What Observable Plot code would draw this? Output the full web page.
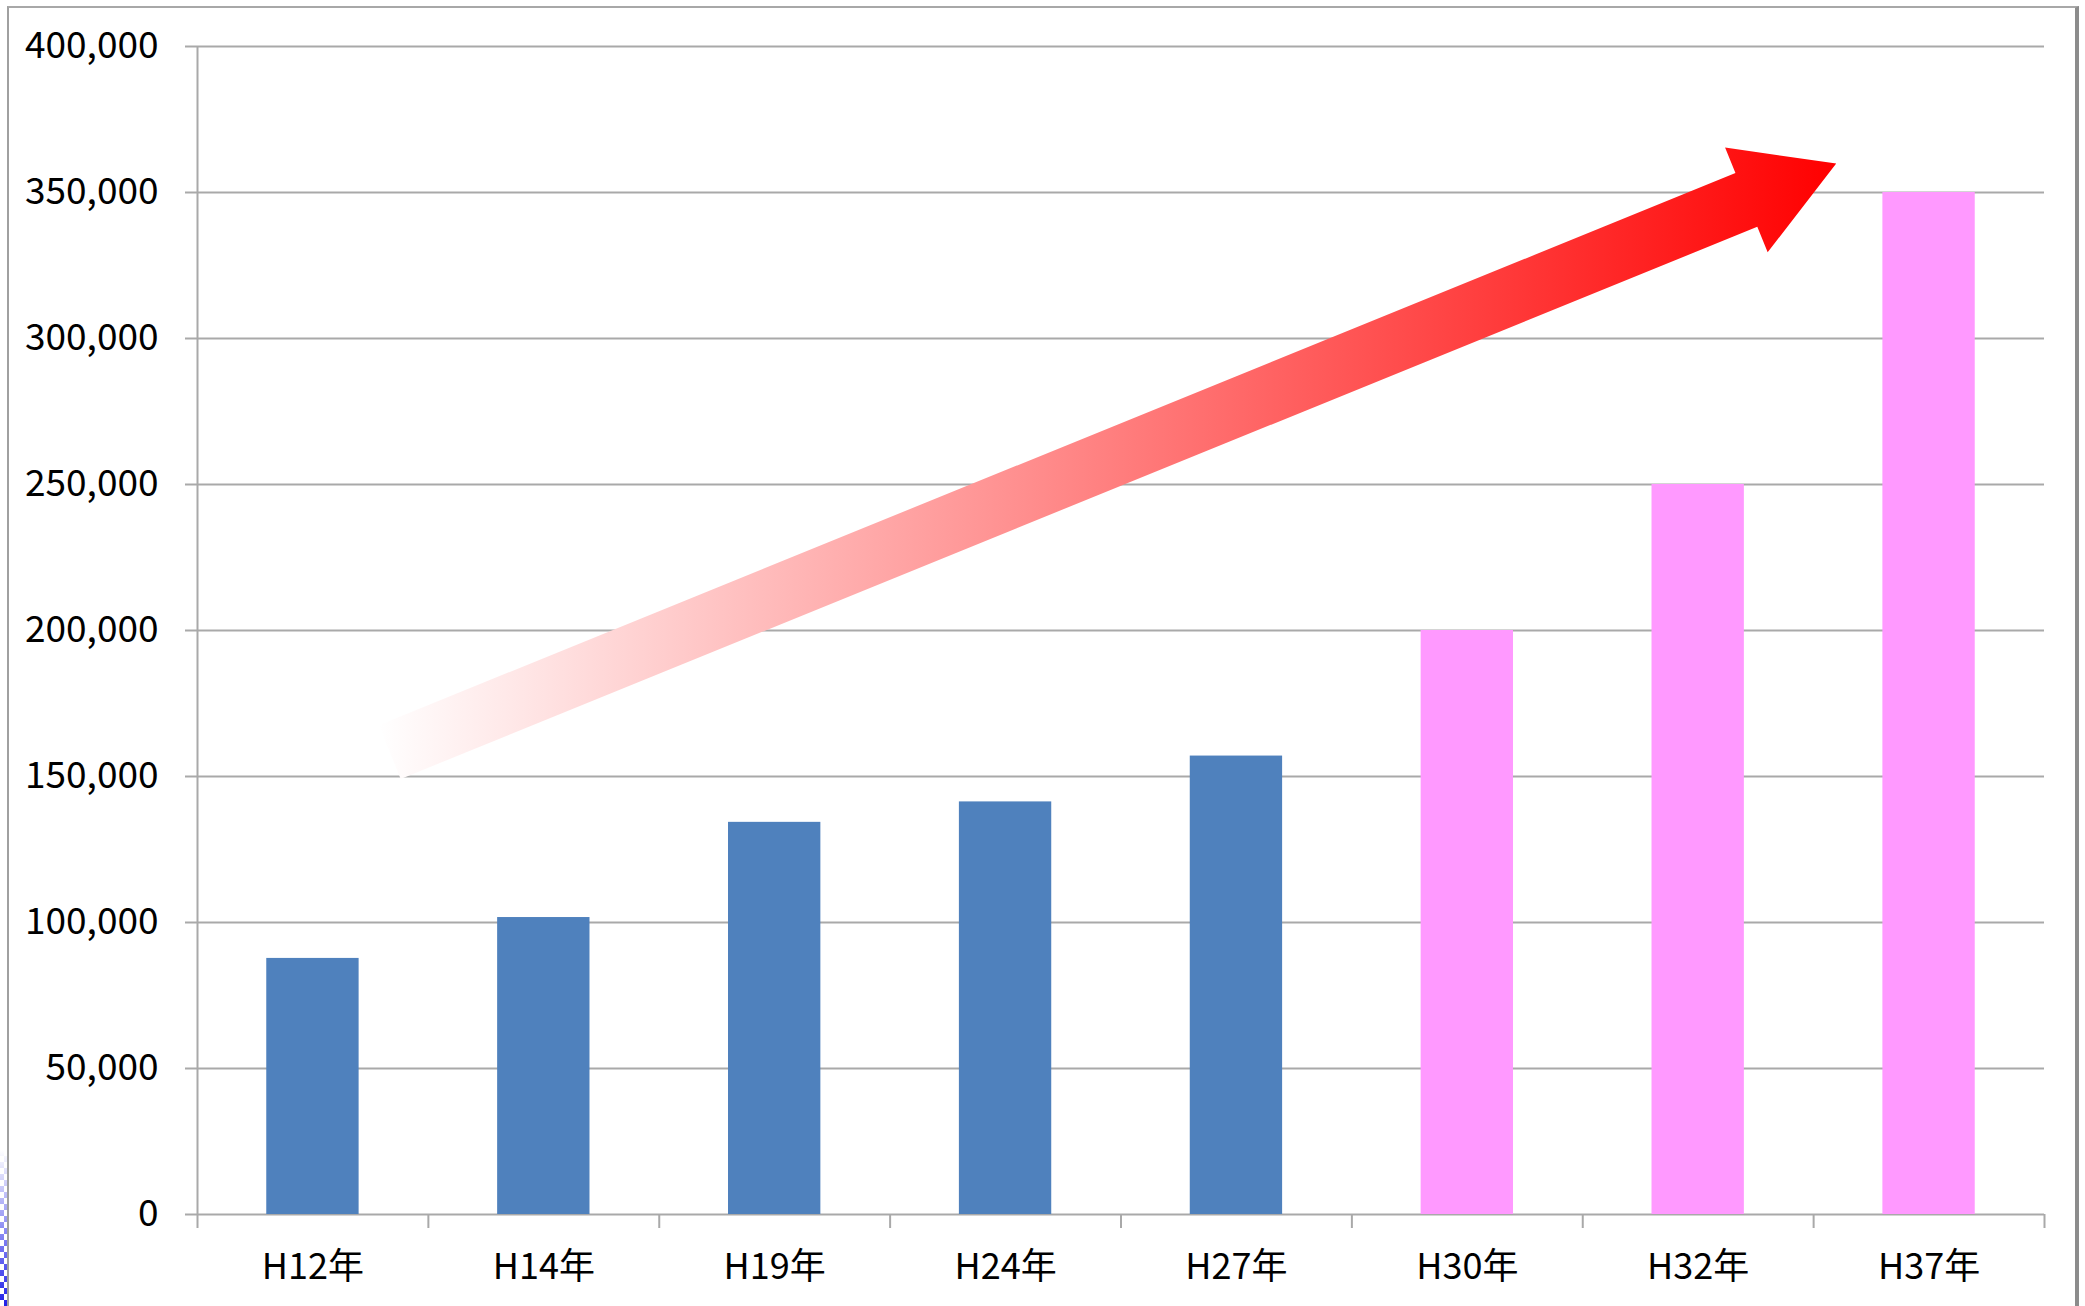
<!DOCTYPE html>
<html>
<head>
<meta charset="utf-8">
<script src="https://cdn.jsdelivr.net/npm/d3@7"></script>
<script src="https://cdn.jsdelivr.net/npm/@observablehq/plot@0.6"></script>
<style>
  html, body { margin: 0; padding: 0; background: #fff; }
  body { width: 2085px; height: 1306px; position: relative; overflow: hidden;
         font-family: "Noto Sans CJK JP", sans-serif; }
  #chart { position: absolute; left: 0; top: 0; }
  #border { position: absolute; left: 7px; top: 6px; width: 2072px; height: 1340px;
            box-sizing: border-box; border-top: 2px solid #a8a8a8; border-left: 2px solid #a0a0a0;
            border-right: 4px solid #8c8c8c; pointer-events: none; }
  #checker { position: absolute; left: 0; top: 1150px; width: 7px; height: 156px;
             background:
               repeating-conic-gradient(#fff 0 25%, transparent 0 50%) 0 0 / 8px 12px,
               linear-gradient(to bottom, rgba(40,40,230,0), #2020e8); }
</style>
</head>
<body>
<div id="chart"></div>
<div id="border"></div>
<div id="checker"></div>
<script>
// ---- data ----
const years  = ["H12年", "H14年", "H19年", "H24年", "H27年", "H30年", "H32年", "H37年"];
const values = [87700, 101700, 134300, 141300, 157000, 200000, 250000, 350000];
const kinds  = ["実績", "実績", "実績", "実績", "実績", "推計", "推計", "推計"];
const yTicks = [0, 50000, 100000, 150000, 200000, 250000, 300000, 350000, 400000];
// trend arrow anchors (category, shift within band steps, value)
const trendFrom = {year: "H12年", shift: 0.335, value: 158200};
const trendTo   = {year: "H37年", shift: -0.40, value: 359800};

const data = years.map((year, i) => ({year, value: values[i], kind: kinds[i]}));

// ---- layout ----
const W = 2085, H = 1306, mL = 197, mR = 41, mT = 46, mB = 92;
const step = (W - mL - mR) / years.length;
const grid = "#a9a9a9";

function trendArrow(index, scales) {
  const sx = scales.x, sy = scales.y;
  const bw = typeof sx.bandwidth === "function" ? sx.bandwidth() : sx.bandwidth;
  const st = typeof sx.step === "function" ? sx.step() : step;
  const px = a => sx(a.year) + bw / 2 + a.shift * st;
  const T = [px(trendFrom), sy(trendFrom.value)];
  const P = [px(trendTo), sy(trendTo.value)];
  const dx = P[0] - T[0], dy = P[1] - T[1], len = Math.hypot(dx, dy);
  const u = [dx / len, dy / len], n = [-u[1], u[0]];
  const w = 29, hl = 97, hw = 56.5;
  const B = [P[0] - hl * u[0], P[1] - hl * u[1]];
  const pt = (o, k) => [o[0] + k * n[0], o[1] + k * n[1]];
  const pts = [pt(T, -w), pt(B, -w), pt(B, -hw), P, pt(B, hw), pt(B, w), pt(T, w)];
  const x0 = Math.min(...pts.map(p => p[0]));
  const g = d3.create("svg:g");
  const grad = g.append("defs").append("linearGradient")
    .attr("id", "trendGrad").attr("gradientUnits", "userSpaceOnUse")
    .attr("x1", x0).attr("y1", 0).attr("x2", P[0]).attr("y2", 0);
  grad.append("stop").attr("offset", 0).attr("stop-color", "#ffffff");
  grad.append("stop").attr("offset", 1).attr("stop-color", "#ff0000");
  g.append("path")
    .attr("d", "M" + pts.map(p => p.join(",")).join("L") + "Z")
    .attr("fill", "url(#trendGrad)");
  return g.node();
}

const chart = Plot.plot({
  width: W, height: H,
  marginLeft: mL, marginRight: mR, marginTop: mT, marginBottom: mB,
  style: {fontFamily: '"Noto Sans CJK JP", sans-serif', color: "#000", background: "transparent", overflow: "visible"},
  x: {type: "band", domain: years, paddingInner: 0.6, paddingOuter: 0.3, round: false, label: null},
  y: {domain: [0, 400000], label: null},
  color: {domain: ["実績", "推計"], range: ["#4f81bd", "#ff99ff"]},
  marks: [
    Plot.ruleY(yTicks, {stroke: grid, strokeWidth: 2, insetLeft: -12}),
    trendArrow,
    Plot.barY(data, {x: "year", y: "value", fill: "kind"}),
    Plot.ruleX(years.slice(0, 1), {x: d => d, dx: -step / 2, y1: 400000, y2: 0, insetBottom: -14, stroke: grid, strokeWidth: 2}),
    Plot.ruleX(years.slice(1), {x: d => d, dx: -step / 2, y1: 0, y2: 0, insetBottom: -14, stroke: grid, strokeWidth: 2}),
    Plot.ruleX(years.slice(-1), {x: d => d, dx: step / 2, y1: 0, y2: 0, insetBottom: -14, stroke: grid, strokeWidth: 2}),
    Plot.axisY({ticks: yTicks, tickSize: 0, tickPadding: 39, tickFormat: d3.format(","), fontSize: 37, label: null}),
    Plot.axisX({tickSize: 0, tickPadding: 39, fontSize: 36, label: null})
  ]
});
document.getElementById("chart").appendChild(chart);
</script>
</body>
</html>
